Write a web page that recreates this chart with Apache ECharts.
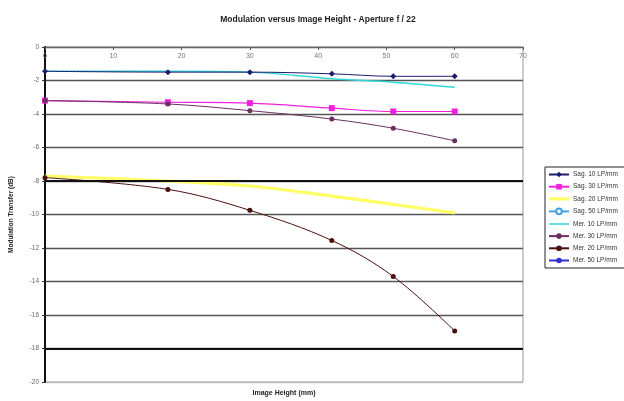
<!DOCTYPE html>
<html><head><meta charset="utf-8">
<script src="https://cdn.jsdelivr.net/npm/echarts@6/dist/echarts.min.js"></script>
<style>html,body{margin:0;padding:0;background:#fff}#c{width:624px;height:401px}</style>
</head><body><div id="c"></div>
<script>
const imageHeight = [0, 18, 30, 42, 51, 60];
const seriesNames = ["Sag. 10 LP/mm","Sag. 30 LP/mm","Sag. 20 LP/mm","Sag. 50 LP/mm","Mer. 10 LP/mm","Mer. 30 LP/mm","Mer. 20 LP/mm","Mer. 50 LP/mm"];
const sag10 = [-1.45, -1.5, -1.5, -1.6, -1.75, -1.75];
const sag30 = [-3.2, -3.3, -3.35, -3.65, -3.85, -3.85];
const sag20 = [-7.7, -8.0, -8.3, -8.9, -9.4, -9.9];
const sag50 = [];
const mer10 = [-1.45, -1.45, -1.5, -1.9, -2.1, -2.4];
const mer30 = [-3.2, -3.4, -3.8, -4.3, -4.85, -5.6];
const mer20 = [-7.8, -8.5, -9.75, -11.55, -13.7, -16.95];
const mer50 = [];
const yTicks = {min: -20, max: 0, step: 2};
const xTicks = {min: 0, max: 70, step: 10};

const pairs = arr => arr.map((v, i) => [imageHeight[i], v]);
const styles = [
  {c:'#1c1c6e', sym:'diamond', size:6, w:1},
  {c:'#ee22dd', sym:'rect', size:6, w:1.2},
  {c:'#ffff66', sym:'none', size:0, w:3.2},
  {c:'#3fa0e0', sym:'emptyCircle', size:3, w:1},
  {c:'#33d6d6', sym:'none', size:0, w:1.5},
  {c:'#6b3060', sym:'circle', size:5, w:1},
  {c:'#4a1010', sym:'circle', size:5, w:1},
  {c:'#3030d0', sym:'circle', size:5, w:1}
];
const datas = [sag10, sag30, sag20, sag50, mer10, mer30, mer20, mer50];
const order = [2, 6, 4, 0, 1, 5, 3, 7];
const series = datas.map((d, i) => ({
  name: seriesNames[i], type: 'line', smooth: 0.35,
  data: pairs(d), symbol: styles[i].sym, symbolSize: styles[i].size,
  z: 2 + order.indexOf(i),
  lineStyle: {color: styles[i].c, width: styles[i].w},
  itemStyle: {color: styles[i].c},
  showSymbol: styles[i].sym !== 'none'
}));
series.push({
  type: 'line', data: [], silent: true, z: 1,
  markLine: {symbol: 'none', silent: true, label: {show: false},
    lineStyle: {color: '#111', width: 2.2, type: 'solid'},
    data: [{yAxis: -8}, {yAxis: -18}]}
});
const splitColors = [];
for (let v = yTicks.min; v <= yTicks.max; v += yTicks.step) splitColors.push(v === yTicks.min ? '#bbb' : '#555');
const lineIcon = w => 'path://M0,0L0.01,0M0,' + (3.5 - w / 2) + 'L20,' + (3.5 - w / 2) + 'L20,' + (3.5 + w / 2) + 'L0,' + (3.5 + w / 2) + 'ZM0,7L0.01,7';
const legendData = seriesNames.map((n, i) => styles[i].sym === 'none'
  ? {name: n, icon: lineIcon(styles[i].w), itemStyle: {color: styles[i].c, borderWidth: 0}} : {name: n});

const chart = echarts.init(document.getElementById('c'), null, {renderer: 'canvas'});
chart.setOption({
  backgroundColor: '#fff',
  animation: false,
  title: {text: 'Modulation versus Image Height - Aperture f / 22', left: 313, top: 10, textAlign: 'center',
    textStyle: {fontFamily: 'Liberation Sans', fontSize: 8.5, fontWeight: 'bold', color: '#222'}},
  grid: {left: 44, right: 101, top: 47, bottom: 18, show: true, borderColor: '#999', borderWidth: 1, backgroundColor: '#fff'},
  legend: {orient: 'vertical', left: 545, top: 167, itemWidth: 20, itemHeight: 7, itemGap: 5.2,
    padding: [4, 20, 4, 3], borderColor: '#222', borderWidth: 1, backgroundColor: '#fff',
    data: legendData,
    textStyle: {fontFamily: 'Liberation Sans', fontSize: 6.5, color: '#333', padding: [0, 0, 0, -1]}},
  xAxis: {type: 'value', position: 'top', min: xTicks.min, max: xTicks.max, interval: xTicks.step,
    name: 'Image Height (mm)', nameLocation: 'middle', nameGap: -350,
    nameTextStyle: {fontFamily: 'Liberation Sans', fontSize: 7, fontWeight: 'bold', color: '#222'},
    axisLine: {show: true, lineStyle: {color: '#666', width: 1.2}},
    axisTick: {show: true, inside: true, length: 3, lineStyle: {color: '#555'}},
    axisLabel: {inside: true, margin: 6, fontFamily: 'Liberation Sans', fontSize: 7, color: '#777'},
    splitLine: {show: false}},
  yAxis: {type: 'value', min: yTicks.min, max: yTicks.max, interval: yTicks.step,
    name: 'Modulation Transfer (dB)', nameLocation: 'middle', nameGap: 30, nameRotate: 90,
    nameTextStyle: {fontFamily: 'Liberation Sans', fontSize: 6.5, fontWeight: 'bold', color: '#222'},
    axisLine: {show: true, onZero: false, lineStyle: {color: '#111', width: 2}},
    axisTick: {show: true, length: 3, lineStyle: {color: '#333'}},
    axisLabel: {margin: 6, fontFamily: 'Liberation Sans', fontSize: 6.5, color: '#666'},
    splitLine: {show: true, lineStyle: {color: splitColors, width: 1.4}}},
  series: series
});
</script></body></html>
